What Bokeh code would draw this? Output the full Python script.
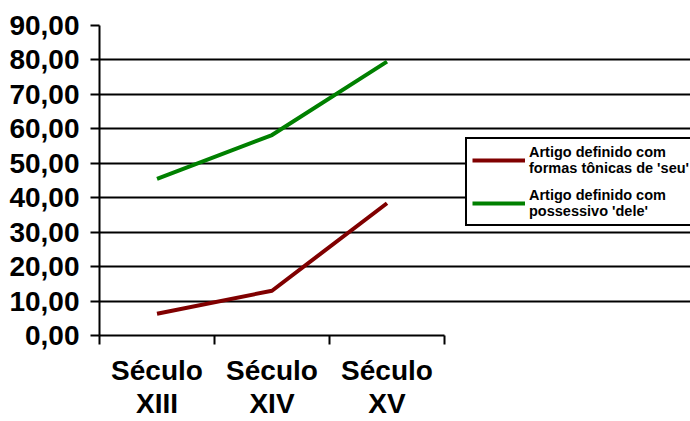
from bokeh.plotting import figure
from bokeh.models import Range1d, FixedTicker, Legend, LegendItem, Grid
from bokeh.embed import file_html
from bokeh.resources import INLINE

categories = ["Século\nXIII", "Século\nXIV", "Século\nXV"]
seu = [6.3, 13.0, 38.4]
dele = [45.5, 58.2, 79.5]
series_names = ["Artigo definido com\nformas tônicas de 'seu'", "Artigo definido com\npossessivo 'dele'"]
y_ticks = [0, 10, 20, 30, 40, 50, 60, 70, 80, 90]
y_labels = ["0,00", "10,00", "20,00", "30,00", "40,00", "50,00", "60,00", "70,00", "80,00", "90,00"]

FONT = "Liberation Sans"
n = len(categories)
xs = [i + 0.5 for i in range(n)]

# layout: the chart area spans 345 px of a 591 px wide frame; the rest holds the legend
W, H = 690, 421
LEFT, TOP, BOTTOM = 99, 25, 86
axis_px = 345
frame_px = W - LEFT
x_end = n * frame_px / axis_px

p = figure(width=W, height=H, output_backend="svg", toolbar_location=None,
           x_range=Range1d(0, x_end), y_range=Range1d(0, 90),
           min_border_left=LEFT, min_border_right=0, min_border_top=TOP, min_border_bottom=BOTTOM)
p.outline_line_color = None
p.background_fill_color = "white"
p.border_fill_color = "white"

r1 = p.line(xs, seu, line_color="#800000", line_width=4)
r2 = p.line(xs, dele, line_color="#008000", line_width=4)

# x axis
xa = p.xaxis[0]
xa.bounds = (0, n)
xa.ticker = FixedTicker(ticks=xs, minor_ticks=list(range(n + 1)))
xa.major_label_overrides = {x: c for x, c in zip(xs, categories)}
xa.major_tick_in = 0
xa.major_tick_out = 0
xa.minor_tick_in = 0
xa.minor_tick_out = 9
xa.minor_tick_line_color = "black"
xa.minor_tick_line_width = 2
xa.axis_line_color = "black"
xa.axis_line_width = 2
xa.major_label_text_font = FONT
xa.major_label_text_font_style = "bold"
xa.major_label_text_font_size = "28px"
xa.major_label_text_color = "black"
xa.major_label_text_line_height = 1.08
xa.major_label_standoff = 10

# y axis
ya = p.yaxis[0]
ya.ticker = FixedTicker(ticks=y_ticks, minor_ticks=[])
ya.major_label_overrides = {t: l for t, l in zip(y_ticks, y_labels)}
ya.major_tick_in = 0
ya.major_tick_out = 9
ya.major_tick_line_width = 2
ya.major_tick_line_color = "black"
ya.axis_line_color = "black"
ya.axis_line_width = 2
ya.major_label_text_font = FONT
ya.major_label_text_font_style = "bold"
ya.major_label_text_font_size = "28px"
ya.major_label_text_color = "black"
ya.major_label_standoff = 11

p.xgrid.visible = False
p.ygrid.ticker = FixedTicker(ticks=y_ticks[1:-1])
p.ygrid.bounds = (0, n)
p.ygrid.grid_line_color = "black"
p.ygrid.grid_line_width = 2
p.add_layout(Grid(dimension=1, ticker=FixedTicker(ticks=y_ticks[-1:]), bounds=(0, n),
                  grid_line_color="#cfcfcf", grid_line_width=2))

legend = Legend(items=[LegendItem(label=series_names[0], renderers=[r1]),
                       LegendItem(label=series_names[1], renderers=[r2])],
                location=(366, 109))
legend.label_text_font = FONT
legend.label_text_font_style = "bold"
legend.label_text_font_size = "14.5px"
legend.label_text_color = "black"
legend.label_text_line_height = 1.5
legend.glyph_width = 53
legend.glyph_height = 20
legend.label_standoff = 4
legend.padding = 5
legend.spacing = 11
legend.margin = 0
legend.border_line_color = "black"
legend.border_line_alpha = 1
legend.border_line_width = 2
legend.background_fill_alpha = 1
p.add_layout(legend, "center")

open("out.html", "w").write(file_html(p, INLINE))
